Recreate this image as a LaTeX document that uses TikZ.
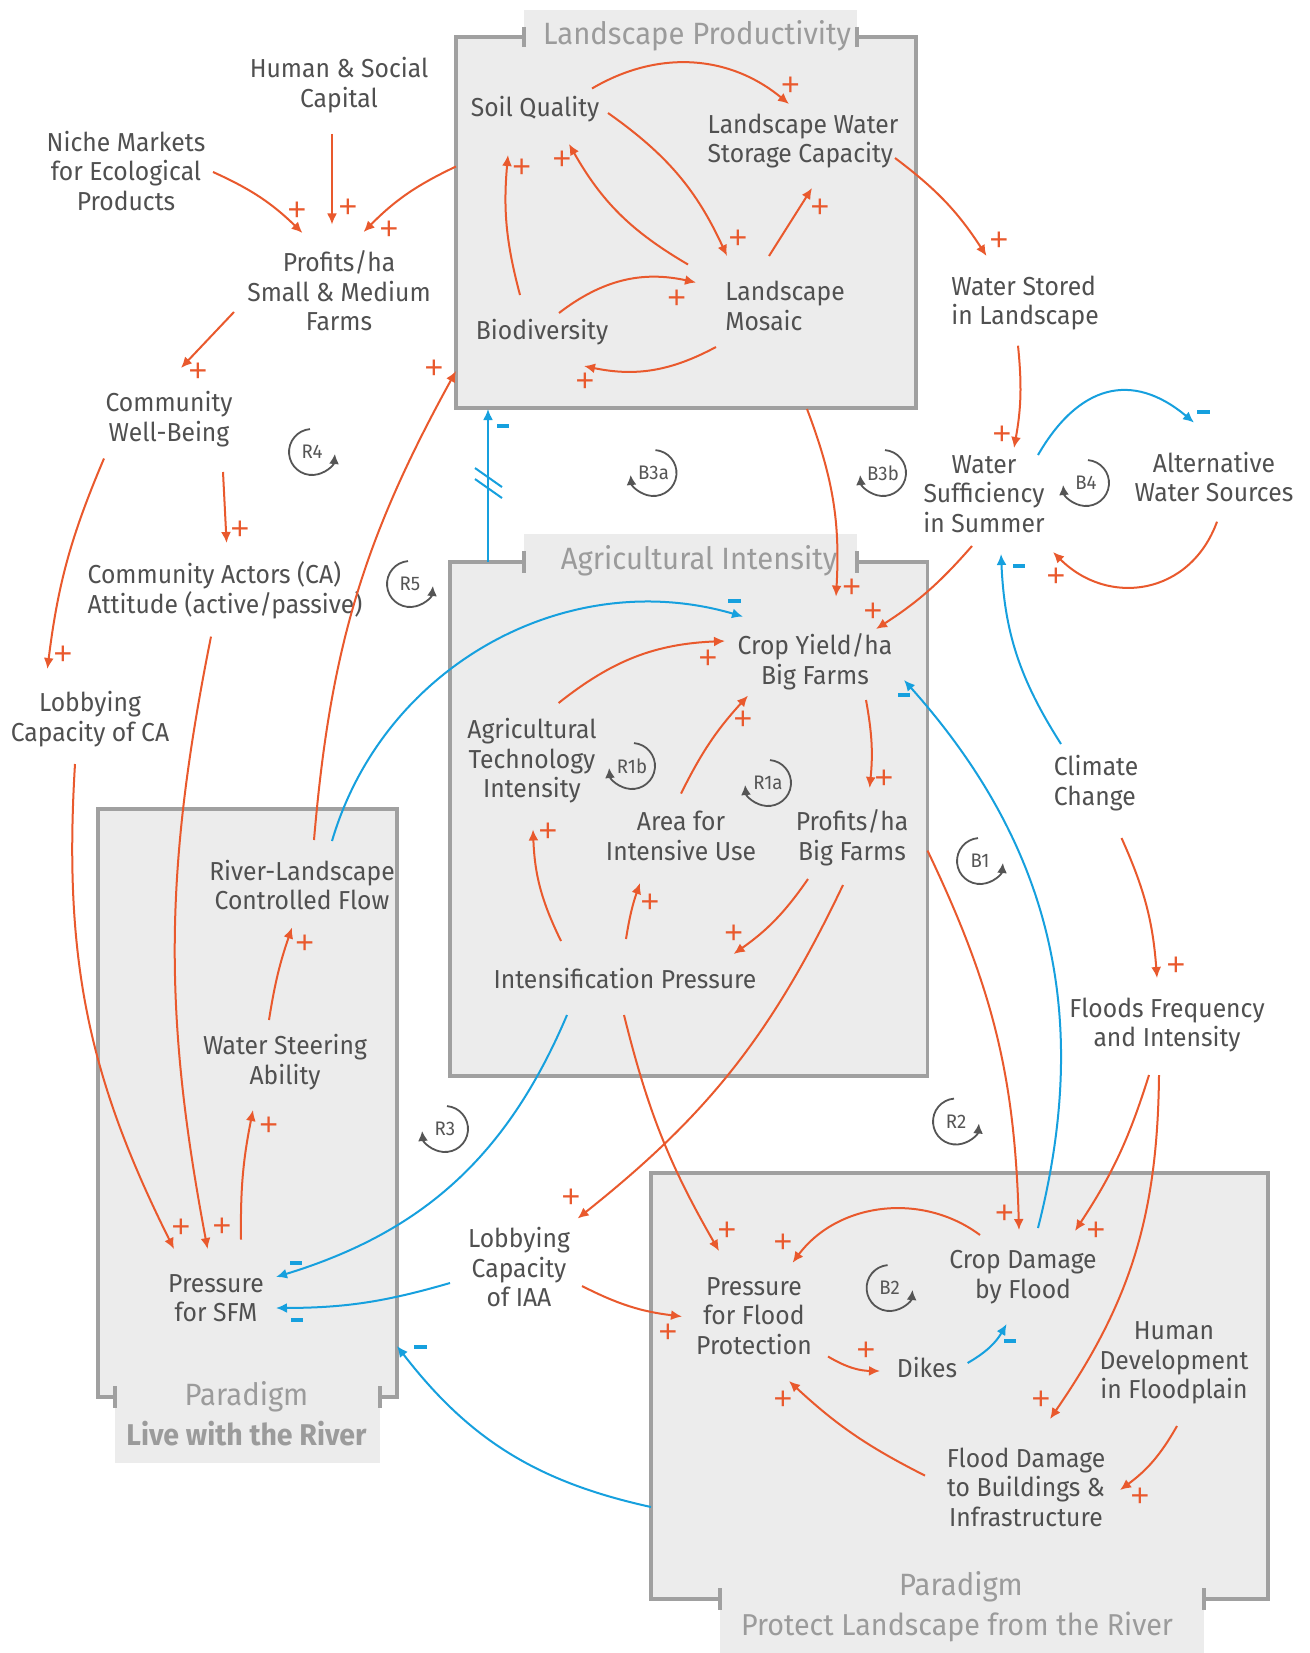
\documentclass[tikz,border=0pt]{standalone}
\usepackage{fontspec}
\setmainfont{Fira Sans}[FakeStretch=0.95]
\newfontfamily\signfamily{Liberation Sans}
\usetikzlibrary{arrows.meta,calc}

\definecolor{cOrange}{RGB}{233,89,45}
\definecolor{cBlue}{RGB}{22,160,222}
\definecolor{cText}{RGB}{80,80,80}
\definecolor{cFill}{RGB}{236,236,236}
\definecolor{cFrame}{RGB}{160,160,160}
\definecolor{cTitle}{RGB}{155,155,155}
\definecolor{cLoop}{RGB}{85,85,85}

\newcommand{\varfont}{\fontsize{13}{14.8}\selectfont}
\newcommand{\titlefont}{\fontsize{15.4}{18}\selectfont}
\newcommand{\loopfont}{\fontsize{9.8}{11}\selectfont}
\newcommand{\signfont}{\signfamily\fontsize{16}{16}\selectfont}

\tikzset{
  var/.style={text=cText, align=center, font=\varfont, inner sep=1pt},
  varl/.style={var, align=left},
  poslink/.style={draw=cOrange, line width=1pt, -{Latex[length=5.5pt,width=5pt]}},
  neglink/.style={draw=cBlue, line width=1pt, -{Latex[length=5.5pt,width=5pt]}},
  plus/.style={text=cOrange, font=\signfont, inner sep=0pt},
  minus/.style={fill=cBlue, minimum width=6.2pt, minimum height=1.9pt, inner sep=0pt},
  sector/.style={draw=cFrame, fill=cFill, line width=1.6pt, rectangle, inner sep=0pt},
  tabfill/.style={fill=cFill},
  tabtick/.style={draw=cFrame, line width=1.6pt},
  sectortitle/.style={text=cTitle, font=\titlefont, inner sep=0pt, anchor=base},
  pics/loopccw/.style={code={
    \draw[cLoop, line width=0.9pt, -{Latex[length=5pt,width=5pt]}]
      (95:11.5pt) arc[start angle=95, end angle=355, radius=11.5pt];
    \node[text=cLoop, font=\loopfont, inner sep=0pt] (-lbl) {#1};}},
  pics/loopcw/.style={code={
    \draw[cLoop, line width=0.9pt, -{Latex[length=5pt,width=5pt]}]
      (85:11.5pt) arc[start angle=85, end angle=-175, radius=11.5pt];
    \node[text=cLoop, font=\loopfont, inner sep=0pt] (-lbl) {#1};}},
}

\begin{document}
\begin{tikzpicture}[x=0.5pt, y=-0.5pt]
\useasboundingbox[fill=white] (0,0) rectangle (1310,1653);

% ---------- sectors ----------
\node[sector, minimum width=230pt, minimum height=185.5pt] (lp) at (686,222.5) {};
\node[sector, minimum width=238.75pt, minimum height=257pt] (ai) at (688.75,819) {};
\node[sector, minimum width=149.5pt, minimum height=294pt] (lwr) at (247.5,1103) {};
\node[sector, minimum width=308.5pt, minimum height=213pt] (plr) at (959.5,1386) {};

% title tabs
\fill[tabfill] (524,10.5) rectangle (857,40);
\draw[tabtick] (524,27) -- (524,47);
\draw[tabtick] (857,27) -- (857,47);
\node[sectortitle] (lptitle) at (697,44.5) {Landscape Productivity};

\fill[tabfill] (524,534) rectangle (857,565);
\draw[tabtick] (524,551) -- (524,573);
\draw[tabtick] (857,551) -- (857,573);
\node[sectortitle] (aititle) at (699,569) {Agricultural Intensity};

\fill[tabfill] (115,1394) rectangle (380,1463);
\draw[tabtick] (115,1386) -- (115,1408);
\draw[tabtick] (380,1386) -- (380,1408);
\node[sectortitle] (lwrtitle) at (246.5,1405) {Paradigm};
\node[sectortitle, font=\fontsize{15}{18}\selectfont\bfseries] (lwrname) at (246.5,1445) {Live with the River};

\fill[tabfill] (720,1596) rectangle (1204,1653);
\draw[tabtick] (720,1588) -- (720,1610);
\draw[tabtick] (1204,1588) -- (1204,1610);
\node[sectortitle] (plrtitle) at (961,1595) {Paradigm};
\node[sectortitle, font=\fontsize{15.1}{18}\selectfont] (plrname) at (957,1635) {Protect Landscape from the River};

% ---------- variables ----------
\node[var] (hsc) at (339,85) {Human \& Social\\Capital};
\node[var] (niche) at (126,171) {Niche Markets\\for Ecological\\Products};
\node[var] (psmf) at (339,291) {Profits/ha\\Small \& Medium\\Farms};
\node[var] (cwb) at (169,419) {Community\\Well-Being};
\node[varl] (caa) at (225,590) {Community Actors (CA)\\Attitude (active/passive)};
\node[var] (lcca) at (90,719) {Lobbying\\Capacity of CA};
\node[var] (soil) at (535,109) {Soil Quality};
\node[varl] (lwsc) at (803,141) {Landscape Water\\Storage Capacity};
\node[varl] (mosaic) at (785,306) {Landscape\\Mosaic};
\node[var] (bio) at (542,332) {Biodiversity};
\node[varl] (wsl) at (1025,303) {Water Stored\\in Landscape};
\node[var] (wss) at (984,494) {Water\\Sufficiency\\in Summer};
\node[var] (aws) at (1214,477) {Alternative\\Water Sources};
\node[var] (cy) at (815,662) {Crop Yield/ha\\Big Farms};
\node[var] (ati) at (532,761) {Agricultural\\Technology\\Intensity};
\node[var] (area) at (681,836) {Area for\\Intensive Use};
\node[var] (pbf) at (852,838) {Profits/ha\\Big Farms};
\node[var] (ip) at (625,979) {Intensification Pressure};
\node[varl] (cc) at (1096,783) {Climate\\Change};
\node[var] (ffi) at (1167,1025) {Floods Frequency\\and Intensity};
\node[var] (rlcf) at (302,885) {River-Landscape\\Controlled Flow};
\node[var] (wsa) at (285,1062) {Water Steering\\Ability};
\node[var] (psfm) at (216,1298) {Pressure\\for SFM};
\node[var] (liaa) at (519,1267) {Lobbying\\Capacity\\of IAA};
\node[var] (pfp) at (754,1316) {Pressure\\for Flood\\Protection};
\node[var] (cdf) at (1023,1277) {Crop Damage\\by Flood};
\node[var] (dikes) at (927,1367) {Dikes};
\node[var] (hdf) at (1174,1363) {Human\\Development\\in Floodplain};
\node[var] (fdb) at (1026,1487) {Flood Damage\\to Buildings \&\\Infrastructure};

% ---------- loops ----------
\pic (r4) at (312,452) {loopccw=R4};
\pic (r5) at (410,584) {loopccw=R5};
\pic (b3a) at (653.5,473) {loopcw=B3a};
\pic (b3b) at (883,473) {loopcw=B3b};
\pic (b4) at (1086,483) {loopcw=B4};
\pic (r1b) at (632,766) {loopcw=R1b};
\pic (r1a) at (768,783) {loopcw=R1a};
\pic (b1) at (980,861) {loopccw=B1};
\pic (r3) at (445,1129) {loopcw=R3};
\pic (r2) at (956,1121.5) {loopccw=R2};
\pic (b2) at (889.6,1288) {loopccw=B2};

% ---------- links inside Landscape Productivity ----------
\draw[poslink] ([shift={(57,-20.5)}]soil.center) to[bend left=35] ([shift={(-14,-37)}]lwsc.center);
\draw[poslink] ([shift={(73,4)}]soil.center) to[bend left=15] ([shift={(-58,-50)}]mosaic.center);
\draw[poslink] ([shift={(-97,-41.5)}]mosaic.center) to[bend left=15] ([shift={(34,35)}]soil.center);
\draw[poslink] ([shift={(-22,-37)}]bio.center) to[bend left=10] ([shift={(-27,46)}]soil.center);
\draw[poslink] ([shift={(17,-19)}]bio.center) to[bend left=25] ([shift={(-89,-23.5)}]mosaic.center);
\draw[poslink] ([shift={(-69,41)}]mosaic.center) to[bend left=20] ([shift={(42,34)}]bio.center);
\draw[poslink] ([shift={(-16,-50)}]mosaic.center) -- ([shift={(9,47)}]lwsc.center);

% ---------- upper left ----------
\draw[poslink] ([shift={(87,1)}]niche.center) to[bend left=10] ([shift={(-36.5,-58)}]psmf.center);
\draw[poslink] ([shift={(-7,49)}]hsc.center) -- ([shift={(-7,-66.5)}]psmf.center);
\draw[poslink] ([shift={(-230,-56)}]lp.center) to[bend right=10] ([shift={(24.6,-59)}]psmf.center);
\draw[poslink] ([shift={(-105,21)}]psmf.center) -- ([shift={(12,-51)}]cwb.center);
\draw[poslink] ([shift={(54,53)}]cwb.center) -- ([shift={(1.6,-47)}]caa.center);
\draw[poslink] ([shift={(-65,39.5)}]cwb.center) to[bend right=8] ([shift={(-42.6,-50)}]lcca.center);
\draw[poslink] ([shift={(-15,45)}]lcca.center) to[bend right=15] ([shift={(-42,-49)}]psfm.center);
\draw[poslink] ([shift={(-14,46.6)}]caa.center) to[bend right=11] ([shift={(-8.4,-49)}]psfm.center);
\draw[poslink] ([shift={(12,-45)}]rlcf.center) to[bend left=12] ([shift={(-230,148.5)}]lp.center);
\draw[neglink] ([shift={(30,-44)}]rlcf.center) to[bend left=45] ([shift={(-72,-45.4)}]cy.center);
\draw[poslink] ([shift={(-16,-42)}]wsa.center) to[bend left=5] ([shift={(-10,42.5)}]rlcf.center);
\draw[poslink] ([shift={(25,-58.5)}]psfm.center) to[bend left=6] ([shift={(-32,48)}]wsa.center);

% ---------- inside Agricultural Intensity ----------
\draw[poslink] ([shift={(26.6,-58)}]ati.center) to[bend left=18] ([shift={(-90,-21)}]cy.center);
\draw[poslink] ([shift={(0,-42.4)}]area.center) to[bend left=8] ([shift={(-67,33.6)}]cy.center);
\draw[poslink] ([shift={(51,38)}]cy.center) to[bend left=8] ([shift={(17.6,-50)}]pbf.center);
\draw[poslink] ([shift={(-44,41)}]pbf.center) to[bend left=10] ([shift={(108.6,-25)}]ip.center);
\draw[poslink] ([shift={(1,-40)}]ip.center) to[bend left=5] ([shift={(-41,47)}]area.center);
\draw[poslink] ([shift={(-64,-38)}]ip.center) to[bend left=12] ([shift={(1,68.5)}]ati.center);
\draw[poslink] ([shift={(-9,47)}]pbf.center) to[bend left=13] ([shift={(58.6,-48.5)}]liaa.center);
\draw[neglink] ([shift={(-58,36)}]ip.center) to[bend left=25] ([shift={(60,-21)}]psfm.center);
\draw[poslink] ([shift={(-1,36)}]ip.center) to[bend right=8] ([shift={(-35,-65)}]pfp.center);

% delayed link between the sectors
\draw[neglink] ([shift={(-200.75,-257)}]ai.center) -- coordinate[pos=0.52] (lag) ([shift={(-198,186.5)}]lp.center);
\draw[cBlue, line width=1pt] ([shift={(-13,-14.4)}]lag) -- ([shift={(14,4.6)}]lag);
\draw[cBlue, line width=1pt] ([shift={(-13,-3.4)}]lag) -- ([shift={(14,15.6)}]lag);

% ---------- right side ----------
\draw[poslink] ([shift={(92,17)}]lwsc.center) to[bend left=10] ([shift={(-38.5,-47)}]wsl.center);
\draw[poslink] ([shift={(121,186.5)}]lp.center) to[bend left=12] ([shift={(21,-65.4)}]cy.center);
\draw[poslink] ([shift={(-7,42.7)}]wsl.center) to[bend left=8] ([shift={(30,-46)}]wss.center);
\draw[neglink] ([shift={(54,-39)}]wss.center) to[out=60, in=140, looseness=1.3] ([shift={(-20,-54.4)}]aws.center);
\draw[poslink] ([shift={(3,44.7)}]aws.center) to[out=-110, in=-45, looseness=1.2] ([shift={(69,58)}]wss.center);
\draw[poslink] ([shift={(-12,52)}]wss.center) to[bend left=8] ([shift={(61,-33)}]cy.center);
\draw[neglink] ([shift={(-35,-39)}]cc.center) to[bend left=15] ([shift={(17,60)}]wss.center);
\draw[poslink] ([shift={(25.5,55)}]cc.center) to[bend left=10] ([shift={(-10,-47)}]ffi.center);
\draw[poslink] ([shift={(-18,50)}]ffi.center) to[bend left=8] ([shift={(52,-46)}]cdf.center);
\draw[poslink] ([shift={(-8,50)}]ffi.center) to[bend left=17] ([shift={(24,-68)}]fdb.center);
\draw[poslink] ([shift={(238.75,31.6)}]ai.center) to[bend left=12] ([shift={(-4,-47)}]cdf.center);
\draw[neglink] ([shift={(15,-49)}]cdf.center) to[bend right=28] ([shift={(89,18)}]cy.center);

% ---------- inside Protect Landscape from the River ----------
\draw[poslink] ([shift={(-43,-42)}]cdf.center) to[bend right=45] ([shift={(38.6,-53.3)}]pfp.center);
\draw[poslink] ([shift={(74,40.5)}]pfp.center) to[bend right=15] ([shift={(-47,4)}]dikes.center);
\draw[neglink] ([shift={(40.6,-4)}]dikes.center) to[bend right=15] ([shift={(-16.4,47)}]cdf.center);
\draw[poslink] ([shift={(-101,-11.4)}]fdb.center) to[bend left=8] ([shift={(35,65)}]pfp.center);
\draw[poslink] ([shift={(3,63)}]hdf.center) to[bend left=12] ([shift={(94,3)}]fdb.center);
\draw[neglink] ([shift={(-69,16)}]liaa.center) to[bend left=8] ([shift={(60,10)}]psfm.center);
\draw[poslink] ([shift={(63,19)}]liaa.center) to[bend right=10] ([shift={(-72,0.5)}]pfp.center);
\draw[neglink] ([shift={(-308.5,121)}]plr.center) to[bend left=20] ([shift={(149.5,243)}]lwr.center);

% ---------- polarity signs ----------
\node[plus] (s1) at (790.5,86.5) {+};
\node[plus] (s2) at (738,239) {+};
\node[plus] (s3) at (562,160) {+};
\node[plus] (s4) at (521.7,168.6) {+};
\node[plus] (s5) at (676.7,299) {+};
\node[plus] (s6) at (585,382.6) {+};
\node[plus] (s7) at (820,208.7) {+};
\node[plus] (s8) at (297,211) {+};
\node[plus] (s9) at (348,208.7) {+};
\node[plus] (s10) at (389,229.8) {+};
\node[plus] (s11) at (198,372) {+};
\node[plus] (s12) at (240,530) {+};
\node[plus] (s13) at (63,655.6) {+};
\node[plus] (s14) at (181,1228) {+};
\node[plus] (s15) at (222,1227) {+};
\node[plus] (s16) at (434,369) {+};
\node[plus] (s18) at (304.6,944) {+};
\node[plus] (s19) at (268.8,1126.7) {+};
\node[plus] (s20) at (708,659) {+};
\node[plus] (s21) at (743,720) {+};
\node[plus] (s22) at (884,779) {+};
\node[plus] (s23) at (733.6,934) {+};
\node[plus] (s24) at (650,903) {+};
\node[plus] (s25) at (548,832.7) {+};
\node[plus] (s26) at (571,1198.4) {+};
\node[plus] (s28) at (727,1231) {+};
\node[plus] (s30) at (999,241) {+};
\node[plus] (s31) at (851.6,588) {+};
\node[plus] (s32) at (1002,435) {+};
\node[plus] (s34) at (1056,577.6) {+};
\node[plus] (s35) at (873,612) {+};
\node[plus] (s37) at (1176,966.5) {+};
\node[plus] (s38) at (1096,1231) {+};
\node[plus] (s39) at (1041,1400) {+};
\node[plus] (s40) at (1004.5,1214) {+};
\node[plus] (s42) at (783,1243.7) {+};
\node[plus] (s43) at (866,1351) {+};
\node[plus] (s45) at (783,1400) {+};
\node[plus] (s46) at (1140,1497) {+};
\node[plus] (s48) at (668,1333) {+};

\node[minus] (m17) at (734.6,601) {};
\node[minus] (m27) at (296,1262.7) {};
\node[minus] (m29) at (503,426) {};
\node[minus] (m33) at (1203.6,412) {};
\node[minus] (m36) at (1019,566) {};
\node[minus] (m41) at (904,694.6) {};
\node[minus] (m44) at (1010,1340.7) {};
\node[minus] (m47) at (297,1319.6) {};
\node[minus] (m49) at (420.5,1347) {};
\end{tikzpicture}
\end{document}
